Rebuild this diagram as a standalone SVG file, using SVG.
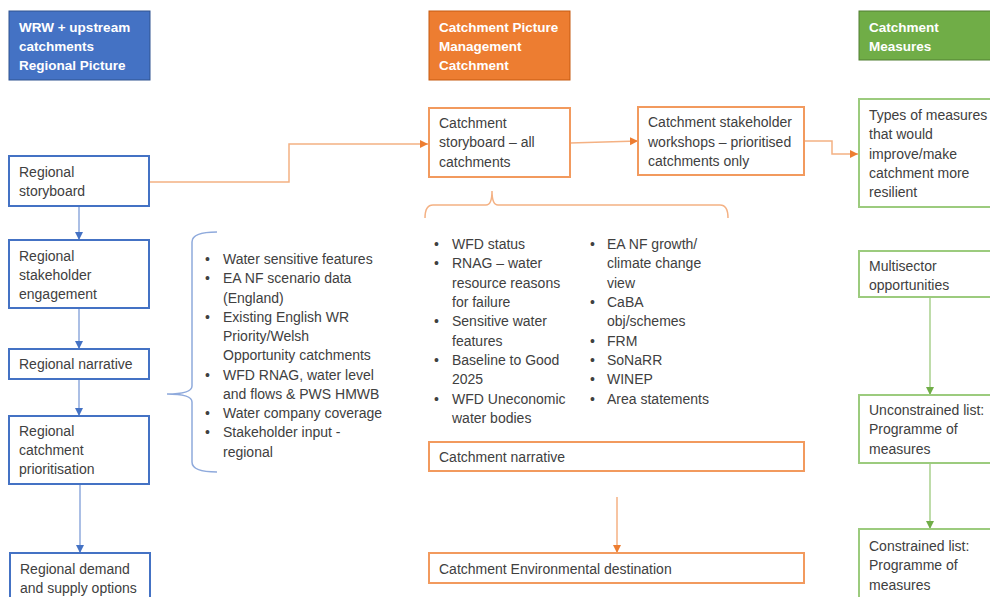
<svg xmlns="http://www.w3.org/2000/svg" width="990" height="597" viewBox="0 0 990 597">
<style>
text{font-family:"Liberation Sans",Arial,sans-serif;font-size:14px;fill:#404040}
.h{font-weight:bold;font-size:13.5px;fill:#ffffff}
.bb{fill:#ffffff;stroke:#4472C4;stroke-width:2}
.ob{fill:#ffffff;stroke:#F29A5E;stroke-width:2}
.gb{fill:#ffffff;stroke:#9CCB7E;stroke-width:2}
.bl{fill:none;stroke:#8FAADC;stroke-width:1.5}
.ol{fill:none;stroke:#F4B183;stroke-width:1.5}
.gl{fill:none;stroke:#A9D18E;stroke-width:1.5}
</style>
<defs>
<marker id="ab" markerUnits="userSpaceOnUse" markerWidth="10" markerHeight="10" refX="8" refY="4" orient="auto"><path d="M0,0 L8,4 L0,8 Z" fill="#4472C4"/></marker>
<marker id="ao" markerUnits="userSpaceOnUse" markerWidth="10" markerHeight="10" refX="8" refY="4" orient="auto"><path d="M0,0 L8,4 L0,8 Z" fill="#ED7D31"/></marker>
<marker id="ag" markerUnits="userSpaceOnUse" markerWidth="10" markerHeight="10" refX="8" refY="4" orient="auto"><path d="M0,0 L8,4 L0,8 Z" fill="#70AD47"/></marker>
</defs>
<rect width="990" height="597" fill="#ffffff"/>

<g id="connectors">
<path class="bl" d="M79,206 L79,240" marker-end="url(#ab)"/>
<path class="bl" d="M79,308 L79,349" marker-end="url(#ab)"/>
<path class="bl" d="M79,379 L79,416" marker-end="url(#ab)"/>
<path class="bl" d="M80,484 L80,553" marker-end="url(#ab)"/>
<path class="ol" d="M149,182 L289,182 L289,144 L428,144" marker-end="url(#ao)"/>
<path class="ol" d="M570,143 L638,141" marker-end="url(#ao)"/>
<path class="ol" d="M804,141 L832,141 L832,154 L858,154" marker-end="url(#ao)"/>
<path class="ol" d="M617,497 L617,553" marker-end="url(#ao)"/>
<path class="gl" d="M930,297 L930,395" marker-end="url(#ag)"/>
<path class="gl" d="M930,463 L930,529" marker-end="url(#ag)"/>
<path fill="none" stroke="#8FAADC" stroke-width="1.5" d="M217,232 Q192,232 192,242 L192,386 Q192,394 167,394 Q192,394 192,402 L192,462 Q192,472 217,472"/>
<path class="ol" d="M425,218 Q425,205 433,205 L486,205 Q492,205 492,191 Q492,205 498,205 L720,205 Q728,205 728,218"/>
</g>

<g id="hdr-regional">
<rect x="9" y="11" width="141" height="69" fill="#4472C4" stroke="#2F528F" stroke-width="1"/>
<text class="h" x="19" y="32">WRW + upstream</text>
<text class="h" x="19" y="51">catchments</text>
<text class="h" x="19" y="70">Regional Picture</text>
</g>
<g id="hdr-catchment">
<rect x="429" y="11" width="141" height="69" fill="#ED7D31" stroke="#C55A11" stroke-width="1"/>
<text class="h" x="439" y="32">Catchment Picture</text>
<text class="h" x="439" y="51">Management</text>
<text class="h" x="439" y="70">Catchment</text>
</g>
<g id="hdr-measures">
<rect x="859" y="11" width="140" height="49" fill="#70AD47" stroke="#507E32" stroke-width="1"/>
<text class="h" x="869" y="32">Catchment</text>
<text class="h" x="869" y="51">Measures</text>
</g>

<g id="regional-storyboard">
<rect class="bb" x="9" y="156" width="140" height="50"/>
<text x="19" y="177">Regional</text>
<text x="19" y="196">storyboard</text>
</g>
<g id="regional-engagement">
<rect class="bb" x="9" y="240" width="140" height="68"/>
<text x="19" y="261">Regional</text>
<text x="19" y="280">stakeholder</text>
<text x="19" y="299">engagement</text>
</g>
<g id="regional-narrative">
<rect class="bb" x="9" y="349" width="140" height="30"/>
<text x="19" y="369">Regional narrative</text>
</g>
<g id="regional-prioritisation">
<rect class="bb" x="9" y="416" width="140" height="68"/>
<text x="19" y="436">Regional</text>
<text x="19" y="455">catchment</text>
<text x="19" y="474">prioritisation</text>
</g>
<g id="regional-options">
<rect class="bb" x="10" y="553" width="140" height="60"/>
<text x="20" y="574">Regional demand</text>
<text x="20" y="593">and supply options</text>
</g>

<g id="regional-data">
<text x="205" y="264">•</text><text x="223" y="264">Water sensitive features</text>
<text x="205" y="283">•</text><text x="223" y="283">EA NF scenario data</text>
<text x="223" y="303">(England)</text>
<text x="205" y="322">•</text><text x="223" y="322">Existing English WR</text>
<text x="223" y="341">Priority/Welsh</text>
<text x="223" y="360">Opportunity catchments</text>
<text x="205" y="380">•</text><text x="223" y="380">WFD RNAG, water level</text>
<text x="223" y="399">and flows &amp; PWS HMWB</text>
<text x="205" y="418">•</text><text x="223" y="418">Water company coverage</text>
<text x="205" y="437">•</text><text x="223" y="437">Stakeholder input -</text>
<text x="223" y="457">regional</text>
</g>

<g id="catchment-storyboard">
<rect class="ob" x="429" y="108" width="141" height="69"/>
<text x="439" y="128">Catchment</text>
<text x="439" y="147">storyboard – all</text>
<text x="439" y="167">catchments</text>
</g>
<g id="catchment-workshops">
<rect class="ob" x="638" y="107" width="166" height="68"/>
<text x="648" y="127">Catchment stakeholder</text>
<text x="648" y="147">workshops – prioritised</text>
<text x="648" y="166">catchments only</text>
</g>

<g id="catchment-data">
<text x="434" y="249">•</text><text x="452" y="249">WFD status</text>
<text x="434" y="268">•</text><text x="452" y="268">RNAG – water</text>
<text x="452" y="288">resource reasons</text>
<text x="452" y="307">for failure</text>
<text x="434" y="326">•</text><text x="452" y="326">Sensitive water</text>
<text x="452" y="346">features</text>
<text x="434" y="365">•</text><text x="452" y="365">Baseline to Good</text>
<text x="452" y="384">2025</text>
<text x="434" y="404">•</text><text x="452" y="404">WFD Uneconomic</text>
<text x="452" y="423">water bodies</text>
<text x="590" y="249">•</text><text x="607" y="249">EA NF growth/</text>
<text x="607" y="268">climate change</text>
<text x="607" y="288">view</text>
<text x="590" y="307">•</text><text x="607" y="307">CaBA</text>
<text x="607" y="326">obj/schemes</text>
<text x="590" y="346">•</text><text x="607" y="346">FRM</text>
<text x="590" y="365">•</text><text x="607" y="365">SoNaRR</text>
<text x="590" y="384">•</text><text x="607" y="384">WINEP</text>
<text x="590" y="404">•</text><text x="607" y="404">Area statements</text>
</g>

<g id="catchment-narrative">
<rect class="ob" x="429" y="442" width="375" height="29"/>
<text x="439" y="462">Catchment narrative</text>
</g>
<g id="catchment-destination">
<rect class="ob" x="429" y="553" width="375" height="30"/>
<text x="439" y="574">Catchment Environmental destination</text>
</g>

<g id="measure-types">
<rect class="gb" x="859" y="99" width="140" height="108"/>
<text x="869" y="120">Types of measures</text>
<text x="869" y="139">that would</text>
<text x="869" y="159">improve/make</text>
<text x="869" y="178">catchment more</text>
<text x="869" y="197">resilient</text>
</g>
<g id="multisector">
<rect class="gb" x="859" y="251" width="140" height="46"/>
<text x="869" y="271">Multisector</text>
<text x="869" y="290">opportunities</text>
</g>
<g id="unconstrained">
<rect class="gb" x="859" y="395" width="140" height="68"/>
<text x="869" y="415">Unconstrained list:</text>
<text x="869" y="434">Programme of</text>
<text x="869" y="454">measures</text>
</g>
<g id="constrained">
<rect class="gb" x="859" y="529" width="140" height="80"/>
<text x="869" y="551">Constrained list:</text>
<text x="869" y="570">Programme of</text>
<text x="869" y="590">measures</text>
</g>
</svg>
